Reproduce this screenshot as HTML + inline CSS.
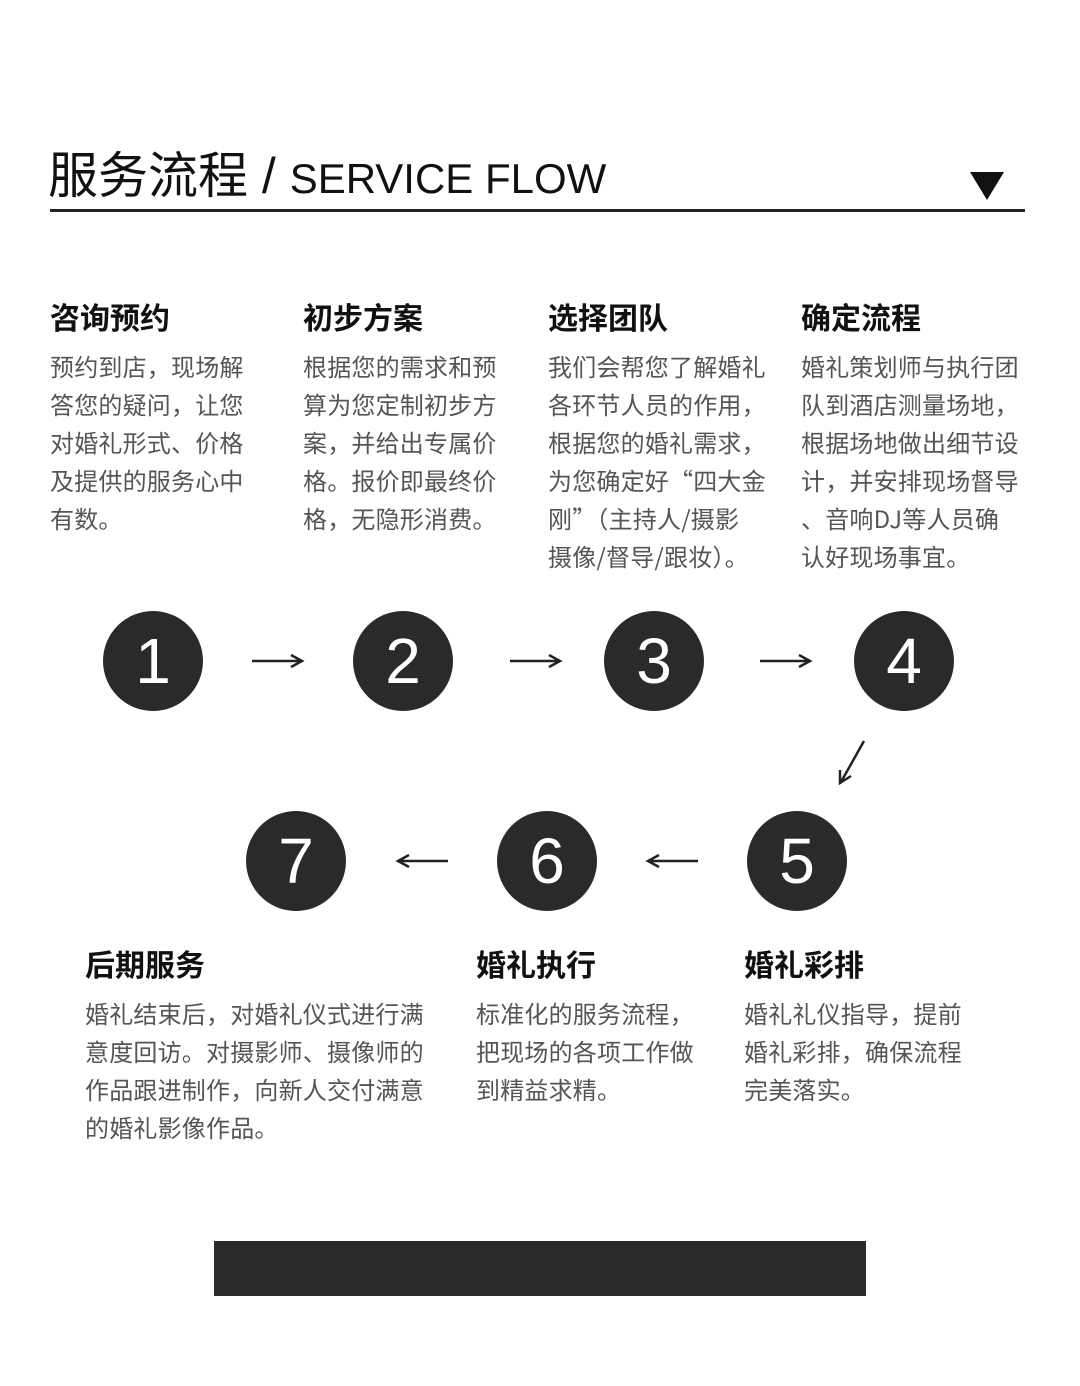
<!DOCTYPE html>
<html><head><meta charset="utf-8"><style>
body{margin:0;width:1080px;height:1386px;background:#fff;position:relative;overflow:hidden;font-family:"Liberation Sans","Noto Sans CJK SC",sans-serif;}
.a{position:absolute;}
.h{font-size:30px;font-weight:bold;color:#111;line-height:40px;white-space:nowrap;}
.t{font-size:24px;color:#555;line-height:38px;white-space:nowrap;letter-spacing:0.2px;font-family:"Noto Sans CJK SC","Liberation Sans",sans-serif;}
.c{position:absolute;width:100px;height:100px;border-radius:50%;background:#2a2a2a;color:#fff;font-size:64px;line-height:100px;text-align:center;font-family:"Liberation Sans",sans-serif;}
</style></head><body>
<div class="a" style="left:48px;top:142px;font-size:50px;color:#111;line-height:68px;white-space:nowrap;">服务流程 / <span style="font-size:42px;">SERVICE FLOW</span></div>
<div class="a" style="left:50px;top:209px;width:975px;height:3px;background:#222;"></div>
<svg class="a" style="left:968px;top:170px" width="38" height="32"><polygon points="2,2 36,2 19,30" fill="#111"/></svg>

<div class="a h" style="left:50px;top:300px">咨询预约</div>
<div class="a t" style="left:50px;top:347px">预约到店，现场解<br>答您的疑问，让您<br>对婚礼形式、价格<br>及提供的服务心中<br>有数。</div>
<div class="a h" style="left:303px;top:300px">初步方案</div>
<div class="a t" style="left:303px;top:347px">根据您的需求和预<br>算为您定制初步方<br>案，并给出专属价<br>格。报价即最终价<br>格，无隐形消费。</div>
<div class="a h" style="left:548px;top:300px">选择团队</div>
<div class="a t" style="left:548px;top:347px">我们会帮您了解婚礼<br>各环节人员的作用，<br>根据您的婚礼需求，<br>为您确定好“四大金<br>刚”（主持人/摄影<br>摄像/督导/跟妆）。</div>
<div class="a h" style="left:801px;top:300px">确定流程</div>
<div class="a t" style="left:801px;top:347px">婚礼策划师与执行团<br>队到酒店测量场地，<br>根据场地做出细节设<br>计，并安排现场督导<br>、音响DJ等人员确<br>认好现场事宜。</div>

<div class="c" style="left:103px;top:611px">1</div>
<div class="c" style="left:353px;top:611px">2</div>
<div class="c" style="left:604px;top:611px">3</div>
<div class="c" style="left:854px;top:611px">4</div>
<div class="c" style="left:246px;top:811px">7</div>
<div class="c" style="left:497px;top:811px">6</div>
<div class="c" style="left:747px;top:811px">5</div>

<svg class="a" style="left:0;top:0" width="1080" height="1386">
<g stroke="#222" stroke-width="2.5" fill="none">
<path d="M252 661H301M291 655L302 661L291 667"/>
<path d="M510 661H559M549 655L560 661L549 667"/>
<path d="M760 661H809M799 655L810 661L799 667"/>
<path d="M864 741L841 782M840 770L840 783L851 776"/>
<path d="M448 861H399M409 855L398 861L409 867"/>
<path d="M698 861H649M659 855L648 861L659 867"/>
</g></svg>

<div class="a h" style="left:85px;top:947px">后期服务</div>
<div class="a t" style="left:85px;top:994px">婚礼结束后，对婚礼仪式进行满<br>意度回访。对摄影师、摄像师的<br>作品跟进制作，向新人交付满意<br>的婚礼影像作品。</div>
<div class="a h" style="left:476px;top:947px">婚礼执行</div>
<div class="a t" style="left:476px;top:994px">标准化的服务流程，<br>把现场的各项工作做<br>到精益求精。</div>
<div class="a h" style="left:744px;top:947px">婚礼彩排</div>
<div class="a t" style="left:744px;top:994px">婚礼礼仪指导，提前<br>婚礼彩排，确保流程<br>完美落实。</div>

<div class="a" style="left:214px;top:1241px;width:652px;height:55px;background:#2a2a2a;"></div>
</body></html>
